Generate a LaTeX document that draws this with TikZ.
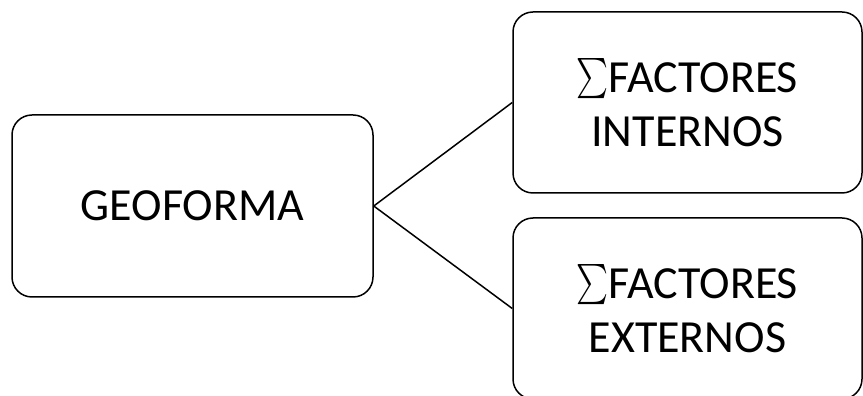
\documentclass[tikz,border=0pt]{standalone}
\usepackage{graphicx}
\usepackage{fontspec}
\setmainfont{Carlito}
% summation sign sized to the 46pt title lines, dropped below the baseline
\newcommand{\sumsign}{\raisebox{-11pt}[34pt][0pt]{\resizebox*{32pt}{45pt}{$\sum$}}}
\begin{document}
\begin{tikzpicture}[x=1pt,y=1pt,
  box/.style={draw=black, line width=1.5pt, rounded corners=20pt, align=center,
    inner sep=0pt, font=\fontsize{46}{54}\selectfont},
  link/.style={draw=black, line width=1.5pt}]
\useasboundingbox (0,0) rectangle (863,396);
\node[box, minimum width=361pt, minimum height=182pt] (geo) at (192.5,190) {GEOFORMA};
\node[box, minimum width=349pt, minimum height=181pt] (int) at (687.5,293.5)
  {\sumsign FACTORES\\INTERNOS};
\node[box, minimum width=349pt, minimum height=181pt] (ext) at (687.5,87.5)
  {\sumsign FACTORES\\EXTERNOS};
\draw[link] (geo.east) -- (int.west);
\draw[link] (geo.east) -- (ext.west);
\end{tikzpicture}
\end{document}
